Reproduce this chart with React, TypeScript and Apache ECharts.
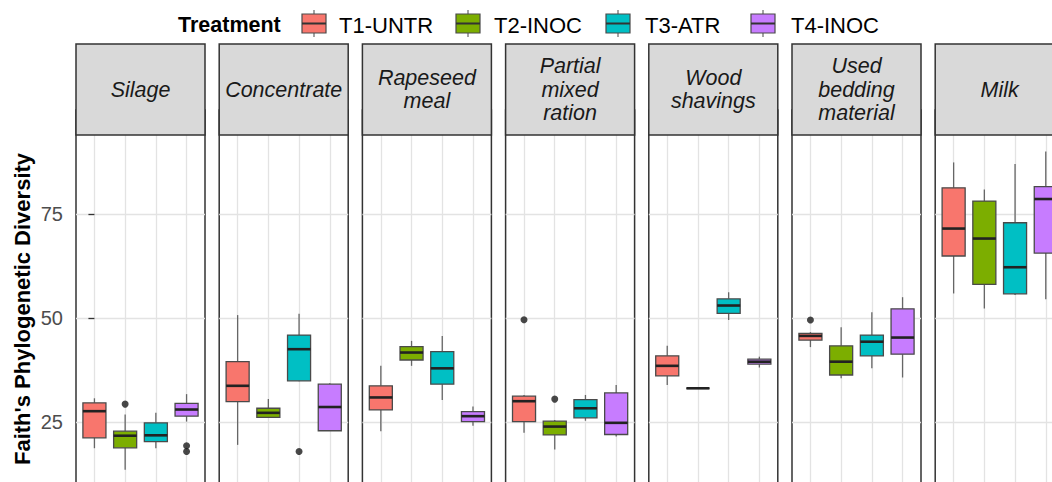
import React, { useEffect, useRef } from "react";
import * as echarts from "echarts";

// Facets (one panel per sample type) and treatment groups
const panels = [
  "Silage",
  "Concentrate",
  "Rapeseed\nmeal",
  "Partial\nmixed\nration",
  "Wood\nshavings",
  "Used\nbedding\nmaterial",
  "Milk",
];
const treatments = ["T1-UNTR", "T2-INOC", "T3-ATR", "T4-INOC"];
const yTicks = [25, 50, 75];

// Box statistics per treatment: [lower whisker, Q1, median, Q3, upper whisker]
const silage = [
  [18.7, 21.2, 27.6, 29.6, 30.7],
  [13.5, 18.8, 21.7, 22.8, 26.8],
  [18.7, 20.3, 21.8, 24.8, 27.2],
  [25.1, 26.4, 28.0, 29.5, 31.7],
];
const concentrate = [
  [19.5, 29.9, 33.7, 39.5, 50.7],
  [26.0, 26.1, 27.2, 28.3, 30.5],
  [34.8, 34.9, 42.5, 45.9, 51.0],
  [22.9, 22.9, 28.6, 34.1, 34.3],
];
const rapeseedMeal = [
  [22.8, 27.9, 30.9, 33.7, 38.5],
  [38.5, 39.9, 41.7, 43.1, 44.5],
  [30.3, 34.1, 37.9, 41.9, 45.7],
  [24.1, 25.1, 26.4, 27.5, 28.7],
];
const partialMixedRation = [
  [22.4, 25.1, 30.0, 31.2, 31.5],
  [18.4, 21.9, 23.9, 25.2, 25.5],
  [25.3, 26.0, 28.3, 30.4, 31.5],
  [21.5, 22.0, 24.8, 32.0, 33.9],
];
const woodShavings = [
  [33.9, 36.1, 38.5, 40.9, 43.3],
  [33.1, 33.1, 33.1, 33.1, 33.1],
  [49.5, 51.1, 53.0, 54.6, 56.2],
  [38.1, 38.9, 39.5, 40.1, 40.7],
];
const usedBedding = [
  [43.0, 44.7, 45.7, 46.3, 46.6],
  [35.5, 36.3, 39.5, 43.3, 47.8],
  [37.9, 40.9, 44.3, 45.9, 51.4],
  [35.7, 41.3, 45.3, 52.2, 55.0],
];
const milk = [
  [55.9, 64.9, 71.5, 81.3, 87.4],
  [52.3, 58.1, 69.1, 78.1, 80.9],
  [55.5, 55.8, 62.2, 72.9, 87.0],
  [54.5, 65.6, 78.6, 81.6, 90.0],
];

// Outlying points: [treatment index, value]
const silageOutliers = [
  [1, 29.3],
  [3, 19.3],
  [3, 17.9],
];
const concentrateOutliers = [[2, 17.9]];
const rapeseedMealOutliers: number[][] = [];
const partialMixedRationOutliers = [
  [0, 49.6],
  [1, 30.5],
];
const woodShavingsOutliers: number[][] = [];
const usedBeddingOutliers = [[0, 49.5]];
const milkOutliers: number[][] = [];

const boxStats = [silage, concentrate, rapeseedMeal, partialMixedRation, woodShavings, usedBedding, milk];
const outliers = [
  silageOutliers,
  concentrateOutliers,
  rapeseedMealOutliers,
  partialMixedRationOutliers,
  woodShavingsOutliers,
  usedBeddingOutliers,
  milkOutliers,
];

const COLORS = ["#F8766D", "#7CAE00", "#00BFC4", "#C77CFF"];
const FONT = "'Liberation Sans', Arial, Helvetica, sans-serif";
const BOX_WIDTH = 0.75;
const GRID_LINE = "#E3E3E3";

// Panel layout
const PANEL_LEFT = 76;
const PANEL_PITCH = 143.2;
const PANEL_WIDTH = 129;
const STRIP_TOP = 44;
const STRIP_BOTTOM = 135;
const GRID_TOP = 110; // value 100 sits under the strip
const GRID_HEIGHT = 416; // 0..100

function buildOption() {
  const grids: any[] = [];
  const xAxes: any[] = [];
  const yAxes: any[] = [];
  const series: any[] = [];
  const graphics: any[] = [];

  panels.forEach((name, i) => {
    const left = PANEL_LEFT + PANEL_PITCH * i;
    grids.push({
      left,
      top: GRID_TOP,
      width: PANEL_WIDTH,
      height: GRID_HEIGHT,
      show: true,
      backgroundColor: "#ffffff",
      borderColor: "#333333",
      borderWidth: 1.5,
      containLabel: false,
      outerBoundsMode: "none",
    });
    xAxes.push({
      type: "value",
      gridIndex: i,
      min: -0.6,
      max: 3.6,
      axisLine: { show: false },
      axisTick: { show: false, customValues: [0, 1, 2, 3] },
      axisLabel: { show: false, customValues: [0, 1, 2, 3] },
      splitLine: { show: true, lineStyle: { color: GRID_LINE, width: 1.3 } },
    });
    yAxes.push({
      type: "value",
      gridIndex: i,
      min: 0,
      max: 100,
      interval: 25,
      axisLine: { show: false },
      axisTick: {
        show: i === 0,
        customValues: yTicks,
        length: 6,
        lineStyle: { color: "#333333", width: 1.3 },
      },
      axisLabel: {
        show: i === 0,
        customValues: yTicks,
        color: "#4D4D4D",
        fontSize: 20,
        fontFamily: FONT,
        margin: 13,
      },
      splitLine: { show: true, lineStyle: { color: GRID_LINE, width: 1.3 } },
    });

    series.push({
      type: "custom",
      xAxisIndex: i,
      yAxisIndex: i,
      z: 3,
      encode: { x: 0, y: [1, 2, 3, 4, 5] },
      data: boxStats[i].map((s, t) => [t, ...s]),
      renderItem: (params: any, api: any) => {
        const t = api.value(0);
        const lo = api.coord([t, api.value(1)]);
        const q1 = api.coord([t, api.value(2)]);
        const md = api.coord([t, api.value(3)]);
        const q3 = api.coord([t, api.value(4)]);
        const hi = api.coord([t, api.value(5)]);
        const half = api.size([BOX_WIDTH, 0])[0] / 2;
        const cx = lo[0];
        return {
          type: "group",
          children: [
            {
              type: "line",
              shape: { x1: cx, y1: hi[1], x2: cx, y2: q3[1] },
              style: { stroke: "#666666", lineWidth: 1.3 },
            },
            {
              type: "line",
              shape: { x1: cx, y1: q1[1], x2: cx, y2: lo[1] },
              style: { stroke: "#666666", lineWidth: 1.3 },
            },
            {
              type: "rect",
              shape: { x: cx - half, y: q3[1], width: half * 2, height: q1[1] - q3[1] },
              style: { fill: COLORS[t], stroke: "#4A4A4A", lineWidth: 1.3 },
            },
            {
              type: "line",
              shape: { x1: cx - half, y1: md[1], x2: cx + half, y2: md[1] },
              style: { stroke: "#222222", lineWidth: 2.6 },
            },
          ],
        };
      },
    });

    series.push({
      type: "scatter",
      xAxisIndex: i,
      yAxisIndex: i,
      z: 4,
      symbol: "circle",
      symbolSize: 7,
      itemStyle: { color: "#1A1A1A" },
      data: outliers[i],
    });

    // facet strip
    graphics.push({
      type: "rect",
      z: 100,
      shape: { x: left, y: STRIP_TOP, width: PANEL_WIDTH, height: STRIP_BOTTOM - STRIP_TOP },
      style: { fill: "#D9D9D9", stroke: "#333333", lineWidth: 1.5 },
    });
    graphics.push({
      type: "text",
      z: 101,
      x: left + PANEL_WIDTH / 2,
      y: (STRIP_TOP + STRIP_BOTTOM) / 2,
      style: {
        text: name,
        fontFamily: FONT,
        fontSize: 21.5,
        fontStyle: "italic",
        fill: "#1A1A1A",
        align: "center",
        verticalAlign: "middle",
        lineHeight: 23.3,
      },
    });
  });

  // legend
  graphics.push({
    type: "text",
    z: 101,
    x: 178,
    y: 25,
    style: {
      text: "Treatment",
      fontFamily: FONT,
      fontSize: 21.5,
      fontWeight: "bold",
      fill: "#000000",
      align: "left",
      verticalAlign: "middle",
    },
  });
  const keyX = [302, 456, 606, 751];
  const labelX = [339, 494, 645, 791];
  treatments.forEach((label, t) => {
    const x = keyX[t];
    graphics.push({
      type: "line",
      z: 101,
      shape: { x1: x + 12, y1: 10, x2: x + 12, y2: 37 },
      style: { stroke: "#666666", lineWidth: 1.2 },
    });
    graphics.push({
      type: "rect",
      z: 102,
      shape: { x, y: 14, width: 24, height: 19 },
      style: { fill: COLORS[t], stroke: "#4A4A4A", lineWidth: 1.2 },
    });
    graphics.push({
      type: "line",
      z: 103,
      shape: { x1: x, y1: 23.5, x2: x + 24, y2: 23.5 },
      style: { stroke: "#333333", lineWidth: 2 },
    });
    graphics.push({
      type: "text",
      z: 101,
      x: labelX[t],
      y: 25,
      style: {
        text: label,
        fontFamily: FONT,
        fontSize: 22,
        fill: "#000000",
        align: "left",
        verticalAlign: "middle",
      },
    });
  });

  // y axis title
  graphics.push({
    type: "text",
    z: 101,
    x: 22,
    y: 309,
    rotation: Math.PI / 2,
    style: {
      text: "Faith's Phylogenetic Diversity",
      fontFamily: FONT,
      fontSize: 22,
      fontWeight: "bold",
      fill: "#000000",
      align: "center",
      verticalAlign: "middle",
    },
  });

  return {
    animation: false,
    backgroundColor: "#ffffff",
    grid: grids,
    xAxis: xAxes,
    yAxis: yAxes,
    series,
    graphic: { elements: graphics },
  };
}

export default function App() {
  const ref = useRef<HTMLDivElement>(null);
  useEffect(() => {
    if (!ref.current) return;
    const chart = echarts.init(ref.current, null, { renderer: "svg" });
    chart.setOption(buildOption() as any);
    return () => chart.dispose();
  }, []);
  return (
    <div
      ref={ref}
      style={{ position: "fixed", left: 0, top: 0, width: 1052, height: 482, background: "#fff" }}
    />
  );
}
